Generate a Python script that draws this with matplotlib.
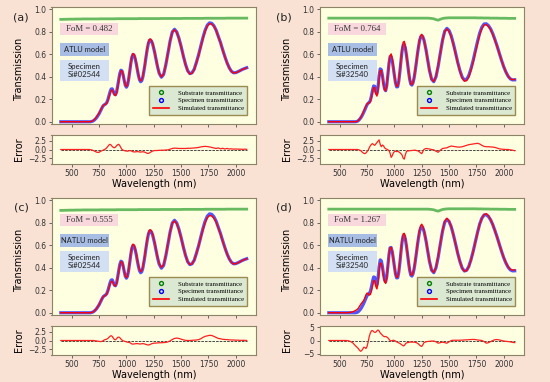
import numpy as np
import matplotlib.pyplot as plt
from matplotlib.patches import Rectangle
from matplotlib.lines import Line2D

# wavelength grid (nm)
wl = [400, 420, 440, 460, 480, 500, 520, 540, 560, 580, 600, 620, 640,
      650, 660, 670, 680, 690, 700, 710, 720, 730, 740,
      750, 760, 770, 780, 790, 800, 810, 820, 830, 840,
      850, 860, 870, 880, 890, 900, 910, 920, 930, 940,
      950, 960, 970, 980, 990, 1000, 1010, 1020, 1030, 1040,
      1050, 1060, 1070, 1080, 1090, 1100, 1110, 1120, 1130, 1140,
      1150, 1160, 1170, 1180, 1190, 1200, 1210, 1220, 1230, 1240,
      1250, 1260, 1270, 1280, 1290, 1300,
      1320, 1340, 1360, 1380, 1400, 1420, 1440, 1460, 1480, 1500,
      1520, 1540, 1560, 1580, 1600, 1620, 1640, 1660, 1680, 1700,
      1720, 1740, 1760, 1780, 1800, 1820, 1840, 1860, 1880, 1900,
      1920, 1940, 1960, 1980, 2000, 2020, 2040, 2060, 2080, 2100]

# substrate transmittance
sub_02544 = [0.910, 0.910, 0.911, 0.911, 0.912, 0.912, 0.912, 0.913, 0.913, 0.913, 0.914, 0.914, 0.914,
             0.914, 0.914, 0.914, 0.914, 0.914, 0.914, 0.914, 0.914, 0.914, 0.914,
             0.914, 0.915, 0.915, 0.915, 0.915, 0.915, 0.915, 0.915, 0.915, 0.915,
             0.915, 0.915, 0.915, 0.915, 0.915, 0.915, 0.916, 0.916, 0.916, 0.916,
             0.916, 0.916, 0.916, 0.916, 0.916, 0.916, 0.916, 0.916, 0.916, 0.916,
             0.916, 0.916, 0.916, 0.916, 0.916, 0.916, 0.917, 0.917, 0.917, 0.917,
             0.917, 0.917, 0.917, 0.917, 0.917, 0.917, 0.917, 0.917, 0.917, 0.917,
             0.917, 0.917, 0.917, 0.917, 0.917, 0.917,
             0.918, 0.918, 0.918, 0.918, 0.918, 0.918, 0.918, 0.918, 0.918, 0.918,
             0.919, 0.919, 0.919, 0.919, 0.919, 0.919, 0.919, 0.919, 0.919, 0.919,
             0.920, 0.920, 0.920, 0.920, 0.920, 0.920, 0.920, 0.920, 0.920, 0.920,
             0.921, 0.921, 0.921, 0.921, 0.921, 0.921, 0.921, 0.921, 0.921, 0.921]
sub_32540 = [0.921, 0.921, 0.921, 0.921, 0.921, 0.921, 0.921, 0.921, 0.921, 0.921, 0.921, 0.921, 0.921,
             0.921, 0.921, 0.921, 0.921, 0.921, 0.921, 0.921, 0.921, 0.921, 0.921,
             0.921, 0.921, 0.921, 0.921, 0.921, 0.921, 0.921, 0.921, 0.921, 0.921,
             0.921, 0.921, 0.921, 0.921, 0.921, 0.921, 0.921, 0.921, 0.921, 0.921,
             0.921, 0.921, 0.921, 0.921, 0.921, 0.921, 0.921, 0.921, 0.921, 0.921,
             0.921, 0.921, 0.921, 0.921, 0.921, 0.921, 0.921, 0.921, 0.921, 0.921,
             0.921, 0.921, 0.921, 0.921, 0.921, 0.921, 0.921, 0.921, 0.921, 0.921,
             0.921, 0.921, 0.921, 0.921, 0.921, 0.921,
             0.920, 0.918, 0.915, 0.908, 0.903, 0.911, 0.918, 0.921, 0.923, 0.924,
             0.924, 0.924, 0.924, 0.924, 0.924, 0.924, 0.924, 0.924, 0.924, 0.924,
             0.924, 0.924, 0.923, 0.923, 0.923, 0.922, 0.922, 0.922, 0.921, 0.921,
             0.921, 0.921, 0.920, 0.920, 0.920, 0.920, 0.919, 0.919, 0.919, 0.919]

# measured specimen transmittance
spec_02544 = [0, 0, 0, 0, 0, 0, 0, 0, 0, 0, 0, 0, 0,
              0.0, 0.0, 0.0, 0.002, 0.005, 0.01, 0.018, 0.028, 0.04, 0.055,
              0.07, 0.09, 0.11, 0.13, 0.145, 0.152, 0.158, 0.17, 0.195, 0.23,
              0.265, 0.29, 0.293, 0.27, 0.245, 0.24, 0.265, 0.316, 0.377, 0.43,
              0.458, 0.452, 0.416, 0.366, 0.324, 0.307, 0.325, 0.376, 0.444, 0.518,
              0.574, 0.599, 0.592, 0.562, 0.516, 0.462, 0.411, 0.373, 0.356, 0.364,
              0.396, 0.45, 0.511, 0.58, 0.642, 0.693, 0.722, 0.727, 0.716, 0.69,
              0.651, 0.608, 0.559, 0.51, 0.467, 0.43,
              0.396, 0.42, 0.504, 0.611, 0.72, 0.799, 0.822, 0.799, 0.743, 0.67,
              0.587, 0.512, 0.454, 0.428, 0.435, 0.467, 0.528, 0.595, 0.673, 0.749,
              0.814, 0.859, 0.879, 0.875, 0.853, 0.815, 0.76, 0.705, 0.641, 0.58,
              0.525, 0.48, 0.449, 0.435, 0.437, 0.445, 0.455, 0.465, 0.473, 0.48]
spec_32540 = [0, 0, 0, 0, 0, 0, 0, 0, 0, 0, 0, 0, 0,
              0.001, 0.004, 0.01, 0.02, 0.032, 0.047, 0.065, 0.085, 0.107, 0.13,
              0.152, 0.165, 0.172, 0.19, 0.23, 0.28, 0.318, 0.315, 0.265, 0.248,
              0.306, 0.406, 0.47, 0.463, 0.413, 0.344, 0.291, 0.276, 0.322, 0.415,
              0.514, 0.577, 0.58, 0.544, 0.481, 0.409, 0.346, 0.31, 0.311, 0.36,
              0.444, 0.542, 0.63, 0.681, 0.687, 0.656, 0.593, 0.52, 0.441, 0.375,
              0.334, 0.326, 0.346, 0.389, 0.451, 0.522, 0.597, 0.664, 0.721, 0.754,
              0.765, 0.754, 0.727, 0.683, 0.634, 0.575,
              0.459, 0.378, 0.356, 0.399, 0.492, 0.611, 0.725, 0.805, 0.83, 0.811,
              0.763, 0.691, 0.609, 0.524, 0.452, 0.396, 0.371, 0.377, 0.411, 0.471,
              0.545, 0.63, 0.714, 0.789, 0.841, 0.869, 0.871, 0.855, 0.825, 0.782,
              0.728, 0.67, 0.607, 0.545, 0.488, 0.441, 0.404, 0.381, 0.372, 0.373]

# fitting error (x100) for each panel
err_a = [0, 0, 0, 0, 0, 0, 0, 0, 0, 0, 0, 0, 0,
         0, 0, -0.05, -0.1, -0.2, -0.35, -0.5, -0.65, -0.8, -0.85,
         -0.8, -0.6, -0.45, -0.3, -0.15, 0.0, 0.2, 0.5, 0.9, 1.3,
         1.5, 1.3, 0.9, 0.6, 0.5, 0.7, 1.1, 1.4, 1.5, 1.1,
         0.5, 0.0, -0.2, -0.3, -0.4, -0.45, -0.5, -0.4, -0.3, -0.35,
         -0.5, -0.65, -0.7, -0.7, -0.65, -0.6, -0.65, -0.7, -0.75, -0.7,
         -0.65, -0.7, -0.8, -0.95, -1.1, -1.15, -1.0, -0.8, -0.6, -0.45,
         -0.35, -0.3, -0.3, -0.3, -0.25, -0.25,
         -0.2, -0.2, -0.15, -0.1, 0.1, 0.3, 0.4, 0.35, 0.3, 0.3,
         0.3, 0.3, 0.35, 0.35, 0.4, 0.45, 0.5, 0.6, 0.75, 0.85,
         0.9, 0.85, 0.75, 0.6, 0.45, 0.3, 0.45, 0.2, 0.35, 0.15,
         0.3, 0.15, 0.2, 0.1, 0.15, 0.1, 0.1, 0.05, 0.1, 0.05]
err_b = [0, 0, 0, 0, 0, 0, 0, 0, 0, 0, 0, 0, 0,
         0, 0, -0.05, -0.15, -0.3, -0.6, -0.9, -1.1, -1.2, -1.0,
         -0.6, -0.2, 0.5, 1.1, 1.5, 1.7, 1.4, 1.2, 1.6, 2.0,
         2.4, 2.8, 1.5, 0.8, 1.3, 1.1, 0.5, 0.2, 0.1, -0.1,
         -0.3, -1.0, -2.3, -1.8, -1.0, -0.6, -0.5, -0.6, -0.5, -0.7,
         -0.9, -1.2, -1.6, -2.5, -2.8, -1.5, -0.6, -0.4, -0.4, -0.35,
         -0.3, -0.3, -0.25, -0.2, -0.2, -0.3, -0.35, -0.5, -0.7, -1.0,
         -1.2, -0.6, 0.0, 0.2, 0.3, 0.25,
         0.15, 0.0, -0.1, -0.5, -0.8, -0.2, 0.3, 0.4, 0.5, 0.8,
         1.0, 0.9, 0.8, 0.7, 0.7, 0.8, 1.0, 1.2, 1.4, 1.5,
         1.6, 1.7, 1.8, 1.6, 1.2, 0.9, 0.8, 0.8, 0.75, 0.7,
         0.6, 0.4, 0.2, 0.1, 0.05, 0.0, 0.0, -0.1, -0.2, -0.35]
err_c = [0, 0, 0, 0, 0, 0, 0, 0, 0, 0, 0, 0, 0,
         0, 0, 0, 0, 0, 0, -0.05, -0.1, -0.15, -0.2,
         -0.25, -0.3, -0.3, -0.2, 0.0, 0.2, 0.3, 0.4, 0.6, 0.9,
         1.2, 1.4, 1.2, 0.7, 0.3, 0.2, 0.5, 0.9, 1.0, 0.8,
         0.4, 0.1, -0.1, -0.2, -0.3, -0.4, -0.5, -0.5, -0.6, -0.8,
         -1.0, -1.05, -1.0, -0.95, -0.9, -0.9, -0.95, -1.0, -1.0, -0.95,
         -0.9, -0.95, -1.05, -1.15, -1.25, -1.3, -1.25, -1.1, -0.95, -0.85,
         -0.8, -0.75, -0.75, -0.7, -0.7, -0.65,
         -0.65, -0.6, -0.55, -0.4, -0.1, 0.3, 0.6, 0.7, 0.6, 0.4,
         0.2, 0.05, 0.0, 0.0, 0.05, 0.1, 0.15, 0.25, 0.5, 0.9,
         1.2, 1.35, 1.5, 1.45, 1.2, 0.9, 0.6, 0.5, 0.35, 0.3,
         0.25, 0.2, 0.15, 0.15, 0.1, 0.1, 0.05, 0.05, 0.05, 0.0]
err_d = [0, 0, 0, 0, 0, 0, 0, 0, 0, -0.1, -0.4, -0.9, -1.8,
         -2.2, -2.6, -3.0, -3.6, -4.0, -3.8, -3.2, -2.5, -2.6, -3.0,
         -2.2, -0.5, 1.5, 2.8, 3.6, 3.7, 3.3, 3.0, 3.1, 3.6,
         3.9, 3.6, 2.8, 2.4, 2.0, 1.6, 1.4, 1.5, 1.3, 1.0,
         0.5, 0.0, -0.2, 0.0, 0.1, 0.0, -0.2, -0.5, -0.7, -0.9,
         -1.1, -1.4, -1.7, -2.0, -1.9, -1.3, -0.9, -0.8, -0.7, -0.6,
         -0.6, -0.6, -0.6, -0.6, -0.7, -0.8, -1.0, -1.3, -1.7, -2.0,
         -2.2, -1.6, -0.8, -0.6, -0.5, -0.4,
         -0.3, -0.2, -0.2, -0.5, -1.0, -0.8, -0.6, -0.8, -1.0, -0.5,
         0.0, 0.1, 0.1, 0.1, 0.1, 0.15, 0.2, 0.25, 0.3, 0.35,
         0.4, 0.35, 0.2, 0.1, 0.0, -0.4, -1.0, -0.8, -0.4, 0.0,
         0.3, 0.35, 0.2, 0.0, -0.2, -0.3, -0.4, -0.5, -0.7, -0.8]

panel_labels = ['(a)', '(b)', '(c)', '(d)']
fom_values = ['0.482', '0.764', '0.555', '1.267']
models = ['ATLU model', 'ATLU model', 'NATLU model', 'NATLU model']
specimens = ['Si#02544', 'Si#32540', 'Si#02544', 'Si#32540']
substrates = [sub_02544, sub_32540, sub_02544, sub_32540]
measured = [spec_02544, spec_32540, spec_02544, spec_32540]
errors = [err_a, err_b, err_c, err_d]
err_ticks = [[-2.5, 0, 2.5], [-2.5, 0, 2.5], [-2.5, 0, 2.5], [-5, 0, 5]]
err_lims = [4.2, 4.2, 4.2, 5.4]

W, H = 550, 382
bg = '#f9e1d4'
face = '#fefee1'
edge = '#8c8466'

fig = plt.figure(figsize=(W / 100, H / 100), dpi=100, facecolor=bg)


def px_axes(x0, y0, x1, y1):
    return fig.add_axes([x0 / W, 1 - y1 / H, (x1 - x0) / W, (y1 - y0) / H])


def style(ax):
    ax.set_facecolor(face)
    for s in ax.spines.values():
        s.set_color(edge)
        s.set_linewidth(0.8)
    ax.tick_params(labelsize=5.5, length=2, width=0.5, pad=1.5, colors='#333333')


offsets = [(0, 0), (268, 0), (0, 191), (268, 191)]
label_x = [21, 16, 21, 16]
wl_arr = np.array(wl)

for i, (ox, oy) in enumerate(offsets):
    sub = np.array(substrates[i])
    spec = np.array(measured[i])
    err = np.array(errors[i])
    sim = spec - err / 100

    ax = px_axes(ox + 51.5, oy + 7, ox + 256, oy + 124)
    style(ax)
    ax.plot(wl_arr, sub, color='#36a436', lw=2.0, alpha=0.75)
    ax.plot(wl_arr, spec, color='#2a2aff', lw=2.3, alpha=0.8)
    ax.plot(wl_arr, sim, color='red', lw=1.0)
    ax.set_ylim(-0.02, 1.02)
    ax.set_yticks([0, 0.2, 0.4, 0.6, 0.8, 1.0])
    ax.set_xticks([500, 750, 1000, 1250, 1500, 1750, 2000])
    ax.tick_params(labelbottom=False)
    ax.set_ylabel('Transmission', fontsize=7)
    ax.yaxis.set_label_coords(-0.135, 0.47)

    # text boxes
    ax.add_patch(Rectangle((0.042, 0.76), 0.283, 0.105, transform=ax.transAxes,
                           facecolor='#f9d8dd', edgecolor='none'))
    ax.text(0.183, 0.812, 'FoM = ' + fom_values[i], transform=ax.transAxes,
            ha='center', va='center', fontsize=6.3, family='Liberation Serif', color='#333333')
    ax.add_patch(Rectangle((0.042, 0.581), 0.24, 0.111, transform=ax.transAxes,
                           facecolor='#a7bde3', edgecolor='none'))
    ax.text(0.162, 0.636, models[i], transform=ax.transAxes,
            ha='center', va='center', fontsize=5.4, family='Lato', color='#222222')
    ax.add_patch(Rectangle((0.042, 0.368), 0.24, 0.179, transform=ax.transAxes,
                           facecolor='#d3dff3', edgecolor='none'))
    ax.text(0.162, 0.457, 'Specimen\n' + specimens[i], transform=ax.transAxes,
            ha='center', va='center', fontsize=5.6, family='Lato', color='#222222',
            linespacing=1.2)

    handles = [Line2D([], [], ls='none', marker='o', mfc='none', mec='green', ms=2.8, mew=1.0),
               Line2D([], [], ls='none', marker='o', mfc='none', mec='blue', ms=2.8, mew=1.0),
               Line2D([], [], color='red', lw=1.2)]
    leg = ax.legend(handles, ['Substrate transmittance', 'Specimen transmittance',
                              'Simulated transmittance'],
                    loc='lower right', bbox_to_anchor=(0.958, 0.077), borderaxespad=0,
                    prop={'family': 'Liberation Serif', 'size': 4.9}, fancybox=False,
                    facecolor='#dbe8d2', edgecolor='#9b8b4f', framealpha=1,
                    handlelength=2.4, borderpad=0.55, labelspacing=0.3, handletextpad=1.2)
    leg.get_frame().set_linewidth(1.0)

    fig.text((ox + label_x[i]) / W, 1 - (oy + 17) / H, panel_labels[i], fontsize=8,
             ha='center', va='center', color='#222222')

    # error panel
    ex = px_axes(ox + 51.5, oy + 135, ox + 256, oy + 164)
    style(ex)
    ex.hlines(0, wl[0], wl[-1], colors='k', linestyles='--', lw=0.5)
    ex.plot(wl_arr, err, color='#ff2020', lw=0.9)
    ex.set_xlim(ax.get_xlim())
    ex.set_ylim(-err_lims[i], err_lims[i])
    ex.set_yticks(err_ticks[i])
    ex.set_xticks([500, 750, 1000, 1250, 1500, 1750, 2000])
    ex.set_ylabel('Error', fontsize=7)
    ex.yaxis.set_label_coords(-0.135, 0.5)
    ex.set_xlabel('Wavelength (nm)', fontsize=7, labelpad=0.5)

fig.savefig('out.png', dpi=100, facecolor=bg)
